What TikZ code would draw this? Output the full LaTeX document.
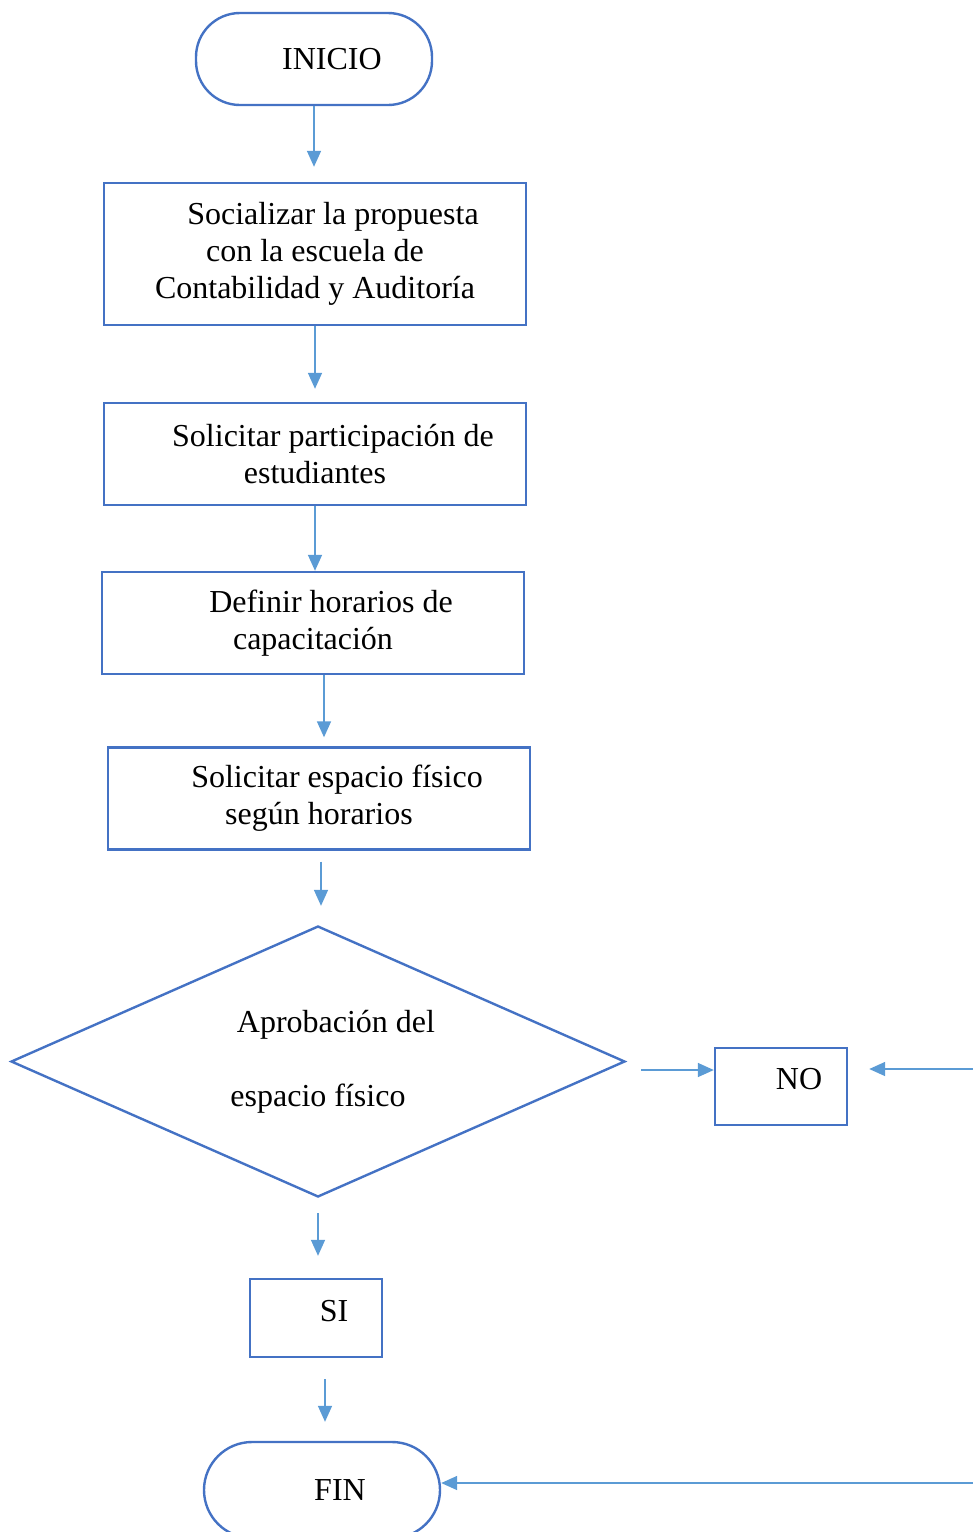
\documentclass[tikz,border=0pt]{standalone}
\usepackage{fontspec}
\setmainfont{Liberation Serif}
\usetikzlibrary{arrows.meta,positioning,shapes.geometric,calc}
\definecolor{borde}{HTML}{4472C4}
\definecolor{azulflecha}{HTML}{5B9BD5}
\newcommand{\sangria}{\hspace*{18pt}}

\begin{document}
\begin{tikzpicture}[x=0.5pt,y=-0.5pt,
  caja/.style={shape=rectangle,draw=borde,line width=1.2pt,minimum width=211pt,minimum height=51pt,inner sep=0pt,align=center,font=\fontsize{16}{18.5}\selectfont},
  terminal/.style={shape=rectangle,rounded corners=22pt,draw=borde,line width=1.2pt,minimum width=118pt,minimum height=46pt,inner sep=0pt,font=\fontsize{16}{18.5}\selectfont},
  flecha/.style={draw=azulflecha,line width=0.8pt,-{Triangle[length=8pt,width=7pt]}}]
\useasboundingbox (0,0) rectangle (973,1532);

\node[terminal] (ini) at (314,59) {\sangria INICIO};
\node[caja, minimum height=71pt] (soc) at (315,254) {\sangria Socializar la propuesta\\con la escuela de\\Contabilidad y Auditoría};
\node[caja] (sol) at (315,454) {\sangria Solicitar participación de\\estudiantes};
\node[caja] (def) at (313,623) {\sangria Definir horarios de\\capacitación};
\node[caja] (esp) at (319,798.5) {\sangria Solicitar espacio físico\\según horarios};
\node[shape=diamond,draw=borde,line width=1.2pt,minimum width=307pt,minimum height=135.5pt,aspect=2.27,inner sep=0pt,align=center,font=\fontsize{16}{18.5}\selectfont] (apr) at (318,1061.5) {\sangria Aprobación del\\[18.5pt]espacio físico};
\node[caja, minimum width=66pt, minimum height=38.5pt, text height=10pt, text depth=7pt] (no) at (781,1086.5) {\sangria NO};
\node[caja, minimum width=66pt, minimum height=39pt, text height=10pt, text depth=7pt] (si) at (316,1318) {\sangria SI};
\node[terminal, minimum height=48pt, rounded corners=24pt] (fin) at (322,1490) {\sangria FIN};

\coordinate (derNO) at (973,1069);
\coordinate (derFIN) at (973,1483);

\draw[flecha, shorten >=7.5pt] (ini.south) -- (ini.south |- soc.north);
\draw[flecha, shorten >=6.5pt] (soc.south) -- (soc.south |- sol.north);
\draw[flecha] (sol.south) -- (sol.south |- def.north);
\draw[flecha, shorten >=4.5pt] ([xshift=5.5pt]def.south) -- ([xshift=5.5pt]def.south |- esp.north);
\draw[flecha, shorten <=5.5pt, shorten >=9.5pt] ([xshift=1pt]esp.south) -- ([xshift=1pt]esp.south |- apr.north);
\draw[flecha, shorten <=7.5pt] ([yshift=-4.25pt]apr.east) -- ([yshift=-4.25pt]apr.east -| no.west);
\draw[flecha, shorten <=7.5pt, shorten >=11pt] (apr.south) -- (apr.south |- si.north);
\draw[flecha, shorten <=10.5pt, shorten >=9.5pt] ([xshift=4.5pt]si.south) -- ([xshift=4.5pt]si.south |- fin.north);
\draw[flecha, shorten >=10.5pt] (derNO) -- (derNO -| no.east);
\draw[flecha] (derFIN) -- (derFIN -| fin.east);
\end{tikzpicture}
\end{document}
